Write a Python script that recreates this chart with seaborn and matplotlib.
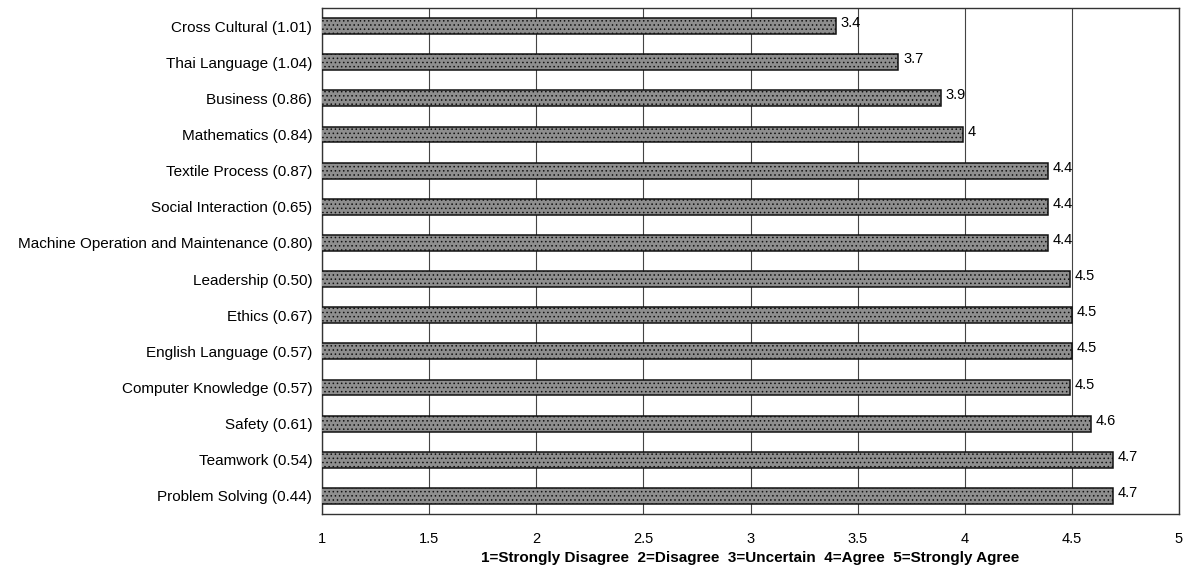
import matplotlib
matplotlib.use("Agg")
import matplotlib.pyplot as plt
import seaborn as sns
import numpy as np
import pandas as pd

categories = [
    "Cross Cultural (1.01)",
    "Thai Language (1.04)",
    "Business (0.86)",
    "Mathematics (0.84)",
    "Textile Process (0.87)",
    "Social Interaction (0.65)",
    "Machine Operation and Maintenance (0.80)",
    "Leadership (0.50)",
    "Ethics (0.67)",
    "English Language (0.57)",
    "Computer Knowledge (0.57)",
    "Safety (0.61)",
    "Teamwork (0.54)",
    "Problem Solving (0.44)",
]
values = [3.40, 3.69, 3.89, 3.99, 4.39, 4.39, 4.39, 4.49, 4.50, 4.50, 4.49, 4.59, 4.69, 4.69]
value_labels = ["3.4", "3.7", "3.9", "4", "4.4", "4.4", "4.4", "4.5", "4.5", "4.5", "4.5", "4.6", "4.7", "4.7"]
x_ticks = [1, 1.5, 2, 2.5, 3, 3.5, 4, 4.5, 5]
x_tick_labels = ["1", "1.5", "2", "2.5", "3", "3.5", "4", "4.5", "5"]
xlabel = "1=Strongly Disagree  2=Disagree  3=Uncertain  4=Agree  5=Strongly Agree"

sns.set_style("white")
plt.rcParams["font.family"] = ["Liberation Sans", "DejaVu Sans"]
plt.rcParams["hatch.color"] = "#5e5e5e"
plt.rcParams["hatch.linewidth"] = 0.6
plt.rcParams["text.color"] = "black"
plt.rcParams["xtick.color"] = "black"
plt.rcParams["ytick.color"] = "black"

df = pd.DataFrame({"category": categories, "value": values})

fig = plt.figure(figsize=(11.92, 5.70), dpi=100)
ax = fig.add_axes([322/1192, 1 - 514/570, (1179 - 322)/1192, (514 - 8)/570])

sns.barplot(data=df, x="value", y="category", orient="h", color="#8e8e8e",
            edgecolor="#111111", linewidth=1.1, width=0.44, ax=ax, saturation=1, zorder=3)
for p in ax.patches:
    p.set_hatch("....")

ax.set_xlim(1, 5)
ax.set_ylim(len(categories) - 0.5, -0.5)
ax.set_xticks(x_ticks)
ax.set_xticklabels(x_tick_labels, fontsize=10.5)
ax.set_yticks(range(len(categories)))
ax.set_yticklabels(categories, fontsize=11)
ax.tick_params(axis="y", which="major", length=0, pad=7)
ax.set_yticks(np.arange(-0.5, len(categories), 1), minor=True)
ax.tick_params(axis="y", which="minor", length=4, width=1, color="#333333")
ax.tick_params(axis="x", which="major", length=4, width=1, color="#333333", pad=9)
ax.set_ylabel("")
ax.set_xlabel("")

ax.grid(axis="x", color="#444444", linewidth=0.8, zorder=0)
ax.set_axisbelow(True)
for s in ax.spines.values():
    s.set_visible(True)
    s.set_color("#333333")
    s.set_linewidth(1.0)

for i, (v, lab) in enumerate(zip(values, value_labels)):
    ax.text(v + 0.022, i - 0.08, lab, va="center", ha="left", fontsize=10.5, zorder=4)

fig.text(750/1192, 1 - 558/570, xlabel, ha="center", va="center", fontsize=11, fontweight="bold")

fig.savefig("out.png", dpi=100, facecolor="white")
